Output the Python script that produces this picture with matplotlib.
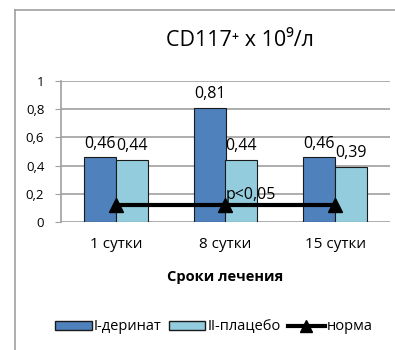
import matplotlib.pyplot as plt
import matplotlib.lines as mlines
import matplotlib.patches as mpatches
import numpy as np

plt.rcParams['font.family'] = ['Open Sans', 'DejaVu Sans']

categories = ['1 сутки', '8 сутки', '15 сутки']
derinat = [0.46, 0.81, 0.46]
placebo = [0.44, 0.44, 0.39]
norma = [0.12, 0.12, 0.12]
yticks = [0, 0.2, 0.4, 0.6, 0.8, 1]

blue = '#4F81BD'
light = '#93CDDD'
grey = '#A0A0A0'

fig = plt.figure(figsize=(3.95, 3.5), dpi=100)

# outer chart frame (cropped at right and bottom)
fig.add_artist(mlines.Line2D([15/395, 15/395], [0, 1 - 10/350], color=grey, lw=1.2))
fig.add_artist(mlines.Line2D([15/395, 1], [1 - 10/350, 1 - 10/350], color=grey, lw=1.2))

ax = fig.add_axes([61/395, 1 - 222/350, 329/395, 141/350])
x = np.arange(len(categories))
w = 0.29
b1 = ax.bar(x - w/2, derinat, w, color=blue, edgecolor='#1a1a1a', lw=0.8, zorder=3)
b2 = ax.bar(x + w/2, placebo, w, color=light, edgecolor='#1a1a1a', lw=0.8, zorder=3)
ax.plot(x, norma, color='black', lw=3, marker='^', ms=10, zorder=4)

for bars, vals in ((b1, derinat), (b2, placebo)):
    for r, v in zip(bars, vals):
        ax.annotate(('%.2f' % v).replace('.', ','), (r.get_x() + r.get_width()/2, v),
                    xytext=(0, 4), textcoords='offset points', ha='center', va='bottom',
                    fontsize=11.5, zorder=5)

ax.text(1.23, 0.19, 'p<0,05', ha='center', va='center', fontsize=11.5, zorder=5)

ax.set_xlim(-0.5, 2.5)
ax.set_ylim(0, 1)
ax.set_yticks(yticks)
ax.set_yticklabels([('%g' % t).replace('.', ',') for t in yticks], fontsize=9.5)
ax.set_xticks(x)
ax.set_xticklabels(categories, fontsize=11)
ax.tick_params(axis='x', length=0, pad=11)
ax.tick_params(axis='y', length=4, color=grey, pad=8)
ax.yaxis.grid(True, color=grey, lw=1.2)
ax.set_axisbelow(True)
for s in ('top', 'right', 'bottom'):
    ax.spines[s].set_visible(False)
ax.spines['left'].set_color(grey)
ax.spines['left'].set_linewidth(1.2)

fig.text(240/395, 1 - 40/350, 'CD117⁺ x 10⁹/л', ha='center', va='center', fontsize=15.5)
fig.text(225/395, 1 - 277/350, 'Сроки лечения', ha='center', va='center',
         fontsize=10.5, fontweight='bold')

handles = [mpatches.Patch(facecolor=blue, edgecolor='#1a1a1a', label='I-деринат'),
           mpatches.Patch(facecolor=light, edgecolor='#1a1a1a', label='II-плацебо'),
           mlines.Line2D([], [], color='black', lw=3, marker='^', ms=8, label='норма')]
fig.legend(handles=handles, loc='center', bbox_to_anchor=(214/395, 1 - 327/350), ncol=3,
           frameon=False, fontsize=10.5, handlelength=2.5, handleheight=0.6,
           handletextpad=0.15, columnspacing=0.5)

fig.savefig('out.png', dpi=100)
